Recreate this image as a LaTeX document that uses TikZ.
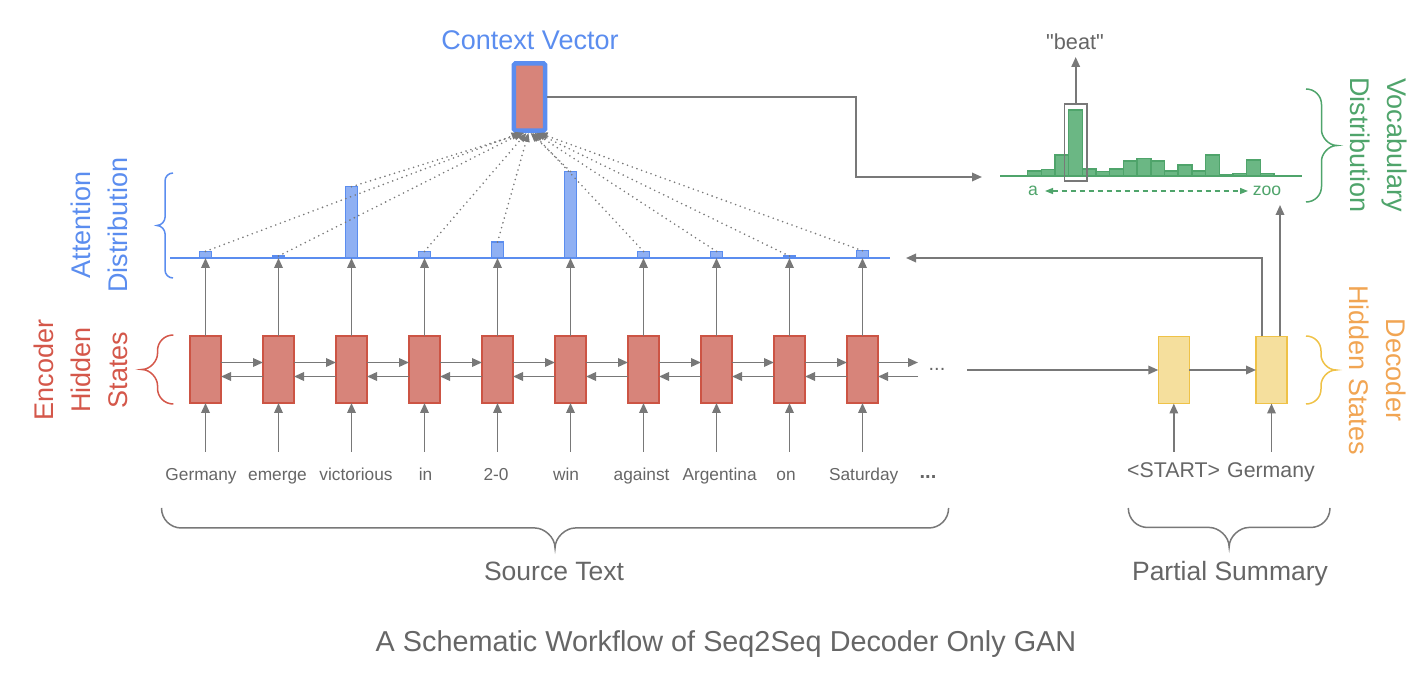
\documentclass[tikz,border=0pt]{standalone}
\usepackage{fontspec}
\setmainfont{Liberation Sans}
\usetikzlibrary{arrows.meta,calc}
\definecolor{txtgray}{HTML}{666666}
\definecolor{lngray}{HTML}{787878}
\definecolor{encfill}{HTML}{D7847A}
\definecolor{encdraw}{HTML}{CC5444}
\definecolor{enctxt}{HTML}{D4574A}
\definecolor{blc}{HTML}{5B8DEF}
\definecolor{blfill}{HTML}{8FB0F3}
\definecolor{grc}{HTML}{4FA46B}
\definecolor{grfill}{HTML}{6BB784}
\definecolor{yfill}{HTML}{F5DF9D}
\definecolor{ydraw}{HTML}{EFC247}
\definecolor{otxt}{HTML}{F1A553}
\newcommand\myhbrace[5]{%
 \draw[#1] (#2,#4) .. controls (#2,{#4+0.28*(#5)}) and ({#2+0.22*(#5)},{#4+0.5*(#5)}) .. ({#2+0.5*(#5)},{#4+0.5*(#5)})
 -- ({(#2+#3)/2-0.5*(#5)},{#4+0.5*(#5)})
 .. controls ({(#2+#3)/2-0.28*(#5)},{#4+0.5*(#5)}) and ({(#2+#3)/2},{#4+0.72*(#5)}) .. ({(#2+#3)/2},{#4+#5})
 .. controls ({(#2+#3)/2},{#4+0.72*(#5)}) and ({(#2+#3)/2+0.28*(#5)},{#4+0.5*(#5)}) .. ({(#2+#3)/2+0.5*(#5)},{#4+0.5*(#5)})
 -- ({#3-0.5*(#5)},{#4+0.5*(#5)})
 .. controls ({#3-0.22*(#5)},{#4+0.5*(#5)}) and (#3,{#4+0.28*(#5)}) .. (#3,#4);}
\newcommand\myvbrace[5]{%
 \draw[#1] (#2,#3) .. controls ({#2+0.28*(#5)},#3) and ({#2+0.5*(#5)},{#3+0.22*abs(#5)}) .. ({#2+0.5*(#5)},{#3+0.5*abs(#5)})
 -- ({#2+0.5*(#5)},{(#3+#4)/2-0.5*abs(#5)})
 .. controls ({#2+0.5*(#5)},{(#3+#4)/2-0.28*abs(#5)}) and ({#2+0.72*(#5)},{(#3+#4)/2}) .. ({#2+(#5)},{(#3+#4)/2})
 .. controls ({#2+0.72*(#5)},{(#3+#4)/2}) and ({#2+0.5*(#5)},{(#3+#4)/2+0.28*abs(#5)}) .. ({#2+0.5*(#5)},{(#3+#4)/2+0.5*abs(#5)})
 -- ({#2+0.5*(#5)},{#4-0.5*abs(#5)})
 .. controls ({#2+0.5*(#5)},{#4-0.22*abs(#5)}) and ({#2+0.28*(#5)},#4) .. (#2,#4);}
\begin{document}
\begin{tikzpicture}[x=1pt,y=-1pt,
  every node/.style={inner sep=0pt, outer sep=0pt},
  arr/.style={draw=lngray, line width=1.8pt, -{Triangle[length=10pt,width=8.5pt]}},
  encbox/.style={draw=encdraw, fill=encfill, line width=1.6pt, minimum width=31pt, minimum height=67pt},
  decbox/.style={draw=ydraw, fill=yfill, line width=1.6pt, minimum width=31pt, minimum height=67pt},
  attbar/.style={draw=blc, fill=blfill, line width=1.4pt, minimum width=12.5pt, anchor=south},
  vocbar/.style={draw=grc, fill=grfill, line width=1.4pt, minimum width=13.68pt, anchor=south},
  dotarr/.style={draw=lngray, line width=1.8pt, dash pattern=on 0pt off 5pt, line cap=round, -{Triangle[length=9pt,width=7pt]}},
  lab/.style={font=\fontsize{27}{37}\selectfont, align=center},
  word/.style={font=\fontsize{17.3}{20}\selectfont, text=txtgray, anchor=base},
  bbr/.style={line width=1.5pt},
]
\useasboundingbox (0,0) rectangle (1428,692);

% ---------- labels ----------
\node[lab, text=blc, anchor=base] (ctx) at (530,49.3) {Context Vector};
\node[lab, text=blc, rotate=90] (attlab) at (99,225) {Attention\\Distribution};
\node[lab, text=enctxt, rotate=90] (enclab) at (80.5,370) {Encoder\\Hidden\\States};
\node[lab, text=grc, rotate=-90] (voclab) at (1378.5,145) {Vocabulary\\Distribution};
\node[lab, text=otxt, rotate=-90] (declab) at (1378,370) {Decoder\\Hidden States};
\node[font=\fontsize{26.5}{30}\selectfont, text=txtgray, anchor=base] (src) at (554,580) {Source Text};
\node[font=\fontsize{26.5}{30}\selectfont, text=txtgray, anchor=base] (part) at (1230,580.7) {Partial Summary};
\node[font=\fontsize{28.8}{32}\selectfont, text=txtgray, anchor=base] (title) at (726,651) {A Schematic Workflow of Seq2Seq Decoder Only GAN};

% ---------- braces ----------
\myvbrace{bbr,blc}{173}{173}{278}{-16}
\myvbrace{bbr,enctxt}{173.3}{335}{404}{-31.6}
\myvbrace{bbr,grc}{1306}{89}{202}{31}
\myvbrace{bbr,ydraw}{1306}{336}{404}{30}
\myhbrace{bbr,lngray}{161.5}{948.6}{508}{40}
\myhbrace{bbr,lngray}{1128.3}{1330}{508}{39}

% ---------- attention line ----------
\draw[blc, line width=1.6pt] (170,258) -- (890,258);

% ---------- encoder ----------
\foreach \i in {0,...,9} {
  \node[encbox] (e\i) at ({205.5+73*\i},369.5) {};
}
\foreach \i/\h in {0/8,1/3.3,2/72.7,3/8,4/17.3,5/88,6/8,7/8,8/3.3,9/8.7} {
  \node[attbar, minimum height={\h-1.4}] (a\i) at ({205.5+73*\i},258) {};
}
\foreach \x/\w [count=\k from 0] in {201/Germany,277.5/emerge,356/victorious,425.5/in,496/2-0,566/win,641.6/against,719.6/Argentina,786/on,863.7/Saturday} {
  \node[word] (w\k) at (\x,481) {\w};
}
\node[word, font=\fontsize{20}{22}\selectfont\bfseries] (wdots) at (928,479) {...};
\foreach \i in {0,...,9} {
  \coordinate (in\i) at ({205.5+73*\i},452);
  \draw[arr] (in\i) -- (e\i.south);
  \draw[arr] (e\i.north) -- (a\i.south);
}
\foreach \i [evaluate=\i as \j using int(\i+1)] in {0,...,8} {
  \draw[arr] ([yshift=7pt]e\i.east) -- ([yshift=7pt]e\j.west);
  \draw[arr] ([yshift=-7pt]e\j.west) -- ([yshift=-7pt]e\i.east);
}
\coordinate (eo) at (918,362.5);
\coordinate (ei) at (918,376.5);
\draw[arr] ([yshift=7pt]e9.east) -- (eo);
\draw[arr] (ei) -- ([yshift=-7pt]e9.east);
\node[word, font=\fontsize{20}{22}\selectfont] (edots) at (937,371) {...};

% ---------- context vector ----------
\node[draw=blc, fill=encfill, line width=4.5pt, rounded corners=1.5pt, minimum width=31.1pt, minimum height=67.2pt, outer sep=2.25pt] (cv) at (529.5,97) {};
\foreach \i in {0,...,9} {
  \draw[dotarr] (a\i.north) -- ($(cv.south)+({-9+2*\i},0)$);
}
\coordinate (vin) at (982,177);
\draw[arr] (cv.east) -| ($(vin)+(-126,0)$) -- (vin);

% ---------- vocabulary distribution ----------
\draw[grc, line width=1.6pt] (1000,176) -- (1302,176);
\foreach \h [count=\k from 0] in {6.3,8,22.3,67.3,8.3,5.7,8.3,16.3,19,16.3,6.3,12.3,6.3,22.3,3,3.7,17.3,3.7} {
  \node[vocbar, minimum height={\h-1.4}] (v\k) at ({1027.7+13.68*\k+6.84},176) {};
}
\node[draw=lngray, line width=1.5pt, minimum width=22.5pt, minimum height=77.2pt] (bbox) at (1075.7,142.6) {};
\coordinate (beattip) at (1075.7,57);
\draw[arr] (bbox.north) -- (beattip);
\node[font=\fontsize{21.7}{24}\selectfont, text=txtgray, anchor=base] (beat) at (1075,49.3) {\textquotedbl beat\textquotedbl};
\node[font=\fontsize{17.6}{20}\selectfont, text=grc, anchor=base] (alab) at (1033,195.7) {a};
\node[font=\fontsize{17.6}{20}\selectfont, text=grc, anchor=base] (zlab) at (1267,195.7) {zoo};
\coordinate (da) at (1045,191);
\coordinate (dz) at (1248,191);
\draw[grc, line width=1.4pt, dash pattern=on 5pt off 4pt, {Triangle[length=8pt,width=6pt]}-{Triangle[length=8pt,width=6pt]}] (da) -- (dz);

% ---------- decoder ----------
\node[decbox] (d0) at (1173.8,370) {};
\node[decbox] (d1) at (1271.5,370) {};
\node[font=\fontsize{21.3}{24}\selectfont, text=txtgray, anchor=base] (ds) at (1173.6,478) {<START>};
\node[font=\fontsize{21.3}{24}\selectfont, text=txtgray, anchor=base] (dg) at (1271,478) {Germany};
\coordinate (din0) at (1173.8,452);
\coordinate (din1) at (1271.5,452);
\draw[arr] (din0) -- (d0.south);
\draw[arr] (din1) -- (d1.south);
\coordinate (dstart) at (967,370);
\draw[arr] (dstart) -- (d0.west);
\draw[arr] (d0.east) -- (d1.west);
\coordinate (fb) at (906,258);
\draw[arr] ([xshift=-9.5pt]d1.north) |- (fb);
\coordinate (vocup) at (1280,205);
\draw[arr] ([xshift=8.5pt]d1.north) -- (vocup);
\end{tikzpicture}
\end{document}
